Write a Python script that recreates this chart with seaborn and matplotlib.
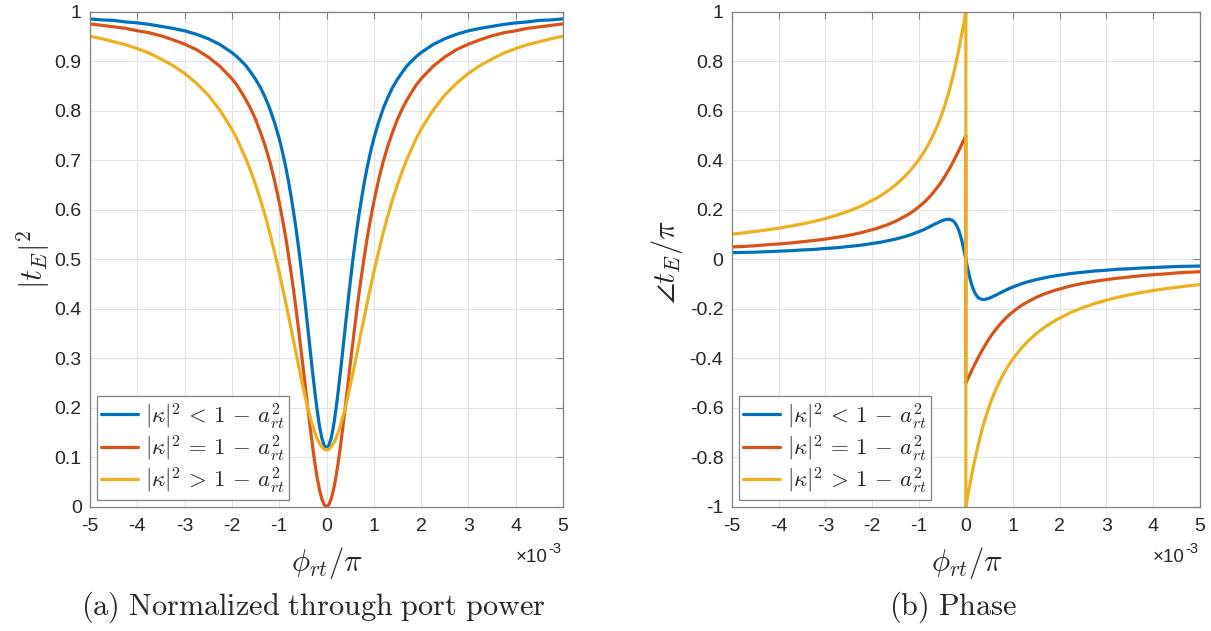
import numpy as np
import pandas as pd
import matplotlib
matplotlib.use("Agg")
import matplotlib.pyplot as plt
import seaborn as sns

# Normalized round-trip phase detuning, phi_rt / pi  (units of 1e-3)
phi = [-5.0, -4.75, -4.5, -4.25, -4.0, -3.75, -3.5, -3.25, -3.0, -2.75, -2.5, -2.25,
       -2.0, -1.9, -1.8, -1.7, -1.6, -1.5, -1.4, -1.3, -1.2, -1.1,
       -1.0, -0.95, -0.9, -0.85, -0.8, -0.75, -0.7, -0.65, -0.6, -0.55, -0.5, -0.45,
       -0.4, -0.35, -0.3, -0.25, -0.2, -0.15, -0.1, -0.05,
       0.0,
       0.05, 0.1, 0.15, 0.2, 0.25, 0.3, 0.35, 0.4, 0.45, 0.5, 0.55, 0.6, 0.65, 0.7,
       0.75, 0.8, 0.85, 0.9, 0.95, 1.0,
       1.1, 1.2, 1.3, 1.4, 1.5, 1.6, 1.7, 1.8, 1.9,
       2.0, 2.25, 2.5, 2.75, 3.0, 3.25, 3.5, 3.75, 4.0, 4.25, 4.5, 4.75, 5.0]

# Same axis with the resonance sample repeated, to draw the phase jump at 0
phi_jump = [-5.0, -4.75, -4.5, -4.25, -4.0, -3.75, -3.5, -3.25, -3.0, -2.75, -2.5, -2.25,
            -2.0, -1.9, -1.8, -1.7, -1.6, -1.5, -1.4, -1.3, -1.2, -1.1,
            -1.0, -0.95, -0.9, -0.85, -0.8, -0.75, -0.7, -0.65, -0.6, -0.55, -0.5, -0.45,
            -0.4, -0.35, -0.3, -0.25, -0.2, -0.15, -0.1, -0.05,
            0.0, 0.0,
            0.05, 0.1, 0.15, 0.2, 0.25, 0.3, 0.35, 0.4, 0.45, 0.5, 0.55, 0.6, 0.65, 0.7,
            0.75, 0.8, 0.85, 0.9, 0.95, 1.0,
            1.1, 1.2, 1.3, 1.4, 1.5, 1.6, 1.7, 1.8, 1.9,
            2.0, 2.25, 2.5, 2.75, 3.0, 3.25, 3.5, 3.75, 4.0, 4.25, 4.5, 4.75, 5.0]

# |t_E|^2 : under-coupled, critically coupled, over-coupled
power_under = [0.986, 0.984, 0.983, 0.980, 0.978, 0.975, 0.971, 0.967, 0.962, 0.955,
               0.946, 0.934, 0.918,
               0.910, 0.901, 0.891, 0.878, 0.864, 0.848, 0.828, 0.805, 0.777,
               0.744, 0.725, 0.704, 0.681, 0.656, 0.628, 0.598, 0.566, 0.531, 0.493,
               0.452, 0.410, 0.366, 0.321, 0.277, 0.235, 0.197, 0.164, 0.139, 0.124,
               0.118,
               0.124, 0.139, 0.164, 0.197, 0.235, 0.277, 0.321, 0.366, 0.410, 0.452,
               0.493, 0.531, 0.566, 0.598, 0.628, 0.656, 0.681, 0.704, 0.725, 0.744,
               0.777, 0.805, 0.828, 0.848, 0.864, 0.878, 0.891, 0.901, 0.910,
               0.918, 0.934, 0.946, 0.955, 0.962, 0.967, 0.971, 0.975, 0.978, 0.980,
               0.983, 0.984, 0.986]
power_critical = [0.976, 0.973, 0.970, 0.967, 0.962, 0.958, 0.952, 0.944, 0.935, 0.924,
                  0.909, 0.890, 0.865,
                  0.853, 0.838, 0.822, 0.804, 0.783, 0.758, 0.730, 0.698, 0.660,
                  0.616, 0.591, 0.565, 0.537, 0.506, 0.474, 0.440, 0.404, 0.366, 0.326,
                  0.286, 0.245, 0.204, 0.164, 0.126, 0.091, 0.060, 0.035, 0.016, 0.004,
                  0.000,
                  0.004, 0.016, 0.035, 0.060, 0.091, 0.126, 0.164, 0.204, 0.245, 0.286,
                  0.326, 0.366, 0.404, 0.440, 0.474, 0.506, 0.537, 0.565, 0.591, 0.616,
                  0.660, 0.698, 0.730, 0.758, 0.783, 0.804, 0.822, 0.838, 0.853,
                  0.865, 0.890, 0.909, 0.924, 0.935, 0.944, 0.952, 0.958, 0.962, 0.967,
                  0.970, 0.973, 0.976]
power_over = [0.951, 0.946, 0.940, 0.934, 0.926, 0.917, 0.905, 0.892, 0.876, 0.856,
              0.832, 0.801, 0.763,
              0.745, 0.724, 0.702, 0.678, 0.651, 0.622, 0.589, 0.554, 0.515,
              0.474, 0.452, 0.430, 0.407, 0.384, 0.361, 0.337, 0.313, 0.290, 0.266,
              0.244, 0.222, 0.202, 0.183, 0.166, 0.151, 0.138, 0.128, 0.121, 0.116,
              0.115,
              0.116, 0.121, 0.128, 0.138, 0.151, 0.166, 0.183, 0.202, 0.222, 0.244,
              0.266, 0.290, 0.313, 0.337, 0.361, 0.384, 0.407, 0.430, 0.452, 0.474,
              0.515, 0.554, 0.589, 0.622, 0.651, 0.678, 0.702, 0.724, 0.745,
              0.763, 0.801, 0.832, 0.856, 0.876, 0.892, 0.905, 0.917, 0.926, 0.934,
              0.940, 0.946, 0.951]

# angle(t_E) / pi
phase_under = [0.027, 0.028, 0.029, 0.031, 0.033, 0.035, 0.038, 0.040, 0.044, 0.047,
               0.052, 0.057, 0.064,
               0.067, 0.070, 0.074, 0.078, 0.082, 0.087, 0.092, 0.098, 0.105,
               0.112, 0.116, 0.120, 0.125, 0.129, 0.134, 0.139, 0.144, 0.148, 0.153,
               0.157, 0.160, 0.162, 0.162, 0.159, 0.152, 0.138, 0.117, 0.086, 0.046,
               0.000,
               -0.046, -0.086, -0.117, -0.138, -0.152, -0.159, -0.162, -0.162, -0.160,
               -0.157, -0.153, -0.148, -0.144, -0.139, -0.134, -0.129, -0.125, -0.120,
               -0.116, -0.112,
               -0.105, -0.098, -0.092, -0.087, -0.082, -0.078, -0.074, -0.070, -0.067,
               -0.064, -0.057, -0.052, -0.047, -0.044, -0.040, -0.038, -0.035, -0.033,
               -0.031, -0.029, -0.028, -0.027]
phase_critical = [0.050, 0.052, 0.055, 0.059, 0.062, 0.066, 0.071, 0.076, 0.082, 0.089,
                  0.097, 0.107, 0.120,
                  0.125, 0.132, 0.138, 0.146, 0.154, 0.164, 0.174, 0.185, 0.198,
                  0.213, 0.221, 0.229, 0.238, 0.248, 0.258, 0.269, 0.281, 0.293, 0.306,
                  0.320, 0.335, 0.351, 0.367, 0.384, 0.402, 0.421, 0.440, 0.460, 0.480,
                  0.500, -0.500,
                  -0.480, -0.460, -0.440, -0.421, -0.402, -0.384, -0.367, -0.351, -0.335,
                  -0.320, -0.306, -0.293, -0.281, -0.269, -0.258, -0.248, -0.238, -0.229,
                  -0.221, -0.213,
                  -0.198, -0.185, -0.174, -0.164, -0.154, -0.146, -0.138, -0.132, -0.125,
                  -0.120, -0.107, -0.097, -0.089, -0.082, -0.076, -0.071, -0.066, -0.062,
                  -0.059, -0.055, -0.052, -0.050]
phase_over = [0.102, 0.107, 0.113, 0.119, 0.126, 0.134, 0.143, 0.153, 0.165, 0.179,
              0.195, 0.214, 0.238,
              0.248, 0.260, 0.272, 0.286, 0.301, 0.318, 0.336, 0.356, 0.379,
              0.404, 0.418, 0.432, 0.448, 0.465, 0.483, 0.502, 0.522, 0.544, 0.568,
              0.594, 0.622, 0.652, 0.685, 0.722, 0.761, 0.803, 0.849, 0.898, 0.948,
              1.000, -1.000,
              -0.948, -0.898, -0.849, -0.803, -0.761, -0.722, -0.685, -0.652, -0.622,
              -0.594, -0.568, -0.544, -0.522, -0.502, -0.483, -0.465, -0.448, -0.432,
              -0.418, -0.404,
              -0.379, -0.356, -0.336, -0.318, -0.301, -0.286, -0.272, -0.260, -0.248,
              -0.238, -0.214, -0.195, -0.179, -0.165, -0.153, -0.143, -0.134, -0.126,
              -0.119, -0.113, -0.107, -0.102]

labels = [r"$|\kappa|^2\,<\,1\,-\,a_{rt}^2$",
          r"$|\kappa|^2\,=\,1\,-\,a_{rt}^2$",
          r"$|\kappa|^2\,>\,1\,-\,a_{rt}^2$"]
colors = ["#0072BD", "#D95319", "#EDB120"]

x_ticks = [-5, -4, -3, -2, -1, 0, 1, 2, 3, 4, 5]
y_ticks_power = [0, 0.1, 0.2, 0.3, 0.4, 0.5, 0.6, 0.7, 0.8, 0.9, 1]
y_ticks_phase = [-1, -0.8, -0.6, -0.4, -0.2, 0, 0.2, 0.4, 0.6, 0.8, 1]
captions = [r"$\mathrm{(a)\ Normalized\ through\ port\ power}$",
            r"$\mathrm{(b)\ Phase}$"]

sns.set_theme(style="white")
plt.rcParams.update({
    "font.family": ["Liberation Sans", "DejaVu Sans"],
    "mathtext.fontset": "cm",
    "axes.unicode_minus": False,
    "axes.edgecolor": "#808080",
    "axes.linewidth": 0.9,
    "xtick.color": "#808080",
    "ytick.color": "#808080",
    "xtick.labelcolor": "#262626",
    "ytick.labelcolor": "#262626",
})

W, H = 1211, 631
fig = plt.figure(figsize=(W / 100, H / 100), dpi=100)


def px_axes(x0, y0, x1, y1):
    return fig.add_axes([x0 / W, 1 - y1 / H, (x1 - x0) / W, (y1 - y0) / H])


ax_pow = px_axes(90, 12, 563, 506.7)
ax_ph = px_axes(731.7, 12, 1200, 506.7)

power_df = pd.DataFrame({
    "phi": phi * 3,
    "value": power_under + power_critical + power_over,
    "case": [labels[0]] * len(phi) + [labels[1]] * len(phi) + [labels[2]] * len(phi),
})
phase_df = pd.DataFrame({
    "phi": phi + phi_jump + phi_jump,
    "value": phase_under + phase_critical + phase_over,
    "case": [labels[0]] * len(phi) + [labels[1]] * len(phi_jump) + [labels[2]] * len(phi_jump),
})

for ax, df in ((ax_pow, power_df), (ax_ph, phase_df)):
    sns.lineplot(data=df, x="phi", y="value", hue="case", hue_order=labels,
                 palette=colors, estimator=None, sort=False, linewidth=2.3, ax=ax)

for ax, yt in ((ax_pow, y_ticks_power), (ax_ph, y_ticks_phase)):
    ax.set_xlim(-5, 5)
    ax.set_ylim(yt[0], yt[-1])
    ax.set_xticks(x_ticks)
    ax.set_xticklabels([f"{t:g}" for t in x_ticks])
    ax.set_yticks(yt)
    ax.set_yticklabels([f"{t:g}" for t in yt])
    ax.grid(True, color="#e4e4e4", linewidth=0.8)
    ax.set_axisbelow(True)
    ax.tick_params(direction="in", length=5, width=0.8, top=True, right=True,
                   labelsize=14)
    ax.tick_params(axis="x", pad=8)
    ax.tick_params(axis="y", pad=6)
    for s in ax.spines.values():
        s.set_visible(True)
    ax.set_xlabel("")
    ax.set_ylabel("")
    leg = ax.legend(loc="lower left", fontsize=16.5, frameon=True, fancybox=False,
                    framealpha=1, edgecolor="#808080", borderpad=0.2,
                    labelspacing=0.1, handlelength=1.6, handletextpad=0.3,
                    borderaxespad=0.3)
    leg.get_frame().set_linewidth(0.9)
    for line in leg.get_lines():
        line.set_linewidth(2.3)

# Axis labels and exponent markers
fig.text(33 / W, 1 - 260 / H, r"$|t_E|^2$", rotation=90, ha="center", va="center",
         fontsize=22)
fig.text(667 / W, 1 - 262 / H, r"$\angle t_E/\pi$", rotation=90, ha="center",
         va="center", fontsize=22)
for cx in (326.7, 966.7):
    fig.text(cx / W, 1 - 563 / H, r"$\phi_{rt}/\pi$", ha="center", va="center",
             fontsize=22)
for rx in (563, 1200):
    fig.text((rx - 15) / W, 1 - 557 / H, "×10", ha="right", va="center",
             fontsize=13.5, color="#262626")
    fig.text((rx - 15) / W, 1 - 549 / H, "-3", ha="left", va="center",
             fontsize=10.5, color="#262626")

fig.text(313 / W, 1 - 607 / H, captions[0], ha="center", va="center", fontsize=21.8)
fig.text(953 / W, 1 - 607 / H, captions[1], ha="center", va="center", fontsize=21.8)

fig.savefig("out.png", dpi=100, facecolor="white")
